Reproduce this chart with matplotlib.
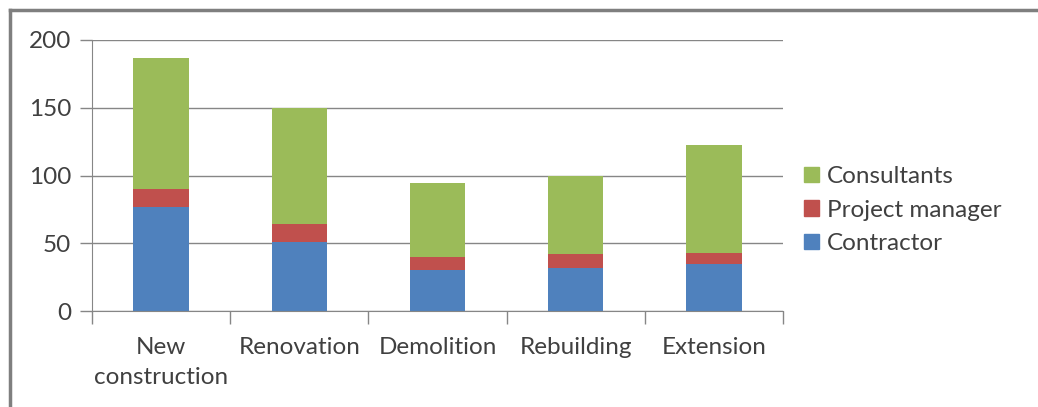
import matplotlib
matplotlib.use("Agg")
import matplotlib.pyplot as plt
from matplotlib.lines import Line2D
from matplotlib.patches import Patch
import numpy as np

plt.rcParams["font.family"] = ["Lato", "DejaVu Sans"]

categories = ["New\nconstruction", "Renovation", "Demolition", "Rebuilding", "Extension"]
contractor = [77, 51, 30, 31.5, 35]
project_manager = [13, 13, 9.5, 10.5, 8]
consultants = [97, 86, 55, 57.5, 79.5]

BLUE = "#4f81bd"
RED = "#c0504d"
GREEN = "#9bbb59"
GRID = "#868686"
TEXT = "#404040"
FS = 17.5

W, H = 1038, 407
fig = plt.figure(figsize=(W / 100, H / 100), dpi=100)
ax = fig.add_axes([92 / W, 1 - 311 / H, (783 - 92) / W, (311 - 40) / H])

x = np.arange(len(categories))
width = 0.4
ax.bar(x, contractor, width, color=BLUE, label="Contractor")
ax.bar(x, project_manager, width, bottom=contractor, color=RED, label="Project manager")
bottom2 = np.array(contractor) + np.array(project_manager)
ax.bar(x, consultants, width, bottom=bottom2, color=GREEN, label="Consultants")

ax.set_xlim(-0.5, len(categories) - 0.5)
ax.set_ylim(0, 200)
ax.set_yticks([0, 50, 100, 150, 200])
ax.yaxis.grid(True, color=GRID, linewidth=1)
ax.set_axisbelow(True)

for side in ["top", "right"]:
    ax.spines[side].set_visible(False)
ax.spines["left"].set_color(GRID)
ax.spines["bottom"].set_color(GRID)

# category ticks sit on the boundaries between groups
ax.set_xticks(np.arange(-0.5, len(categories)), minor=False)
ax.set_xticklabels([])
ax.set_xticks(x, minor=True)
ax.set_xticklabels(categories, minor=True, fontsize=FS, color=TEXT, linespacing=1.5)
ax.tick_params(axis="x", which="major", length=9, color=GRID, width=1)
ax.tick_params(axis="x", which="minor", length=0, pad=19)
ax.tick_params(axis="y", length=9, color=GRID, width=1, labelsize=FS, labelcolor=TEXT, pad=6)

handles = [Patch(color=GREEN), Patch(color=RED), Patch(color=BLUE)]
fig.legend(handles, ["Consultants", "Project manager", "Contractor"],
           loc="center left", bbox_to_anchor=(804 / W, 1 - 210 / H),
           frameon=False, fontsize=FS, labelcolor=TEXT,
           handlelength=0.6, handleheight=0.6, handletextpad=0.35,
           labelspacing=0.52, borderaxespad=0, borderpad=0)

# outer chart border (top and left edges only)
fig.add_artist(Line2D([10 / W, 1], [1 - 10 / H, 1 - 10 / H], color="#7f7f7f", linewidth=2.5,
                      transform=fig.transFigure))
fig.add_artist(Line2D([10 / W, 10 / W], [0, 1 - 10 / H], color="#7f7f7f", linewidth=2.5,
                      transform=fig.transFigure))

fig.savefig("out.png", dpi=100)
